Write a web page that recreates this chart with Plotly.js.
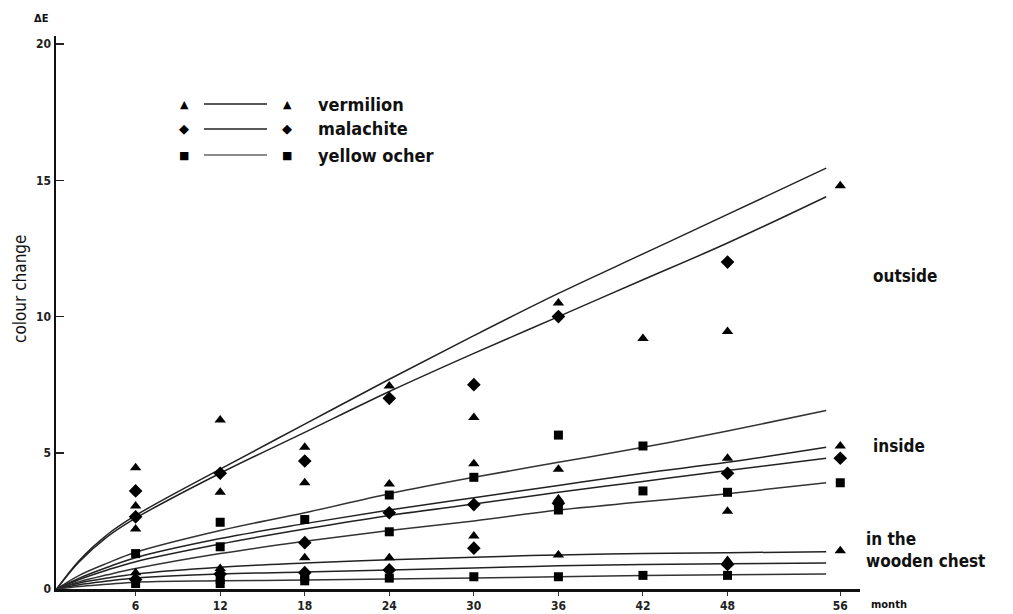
<!DOCTYPE html>
<html>
<head>
<meta charset="utf-8">
<script src="https://cdn.plot.ly/plotly-3.0.1.min.js"></script>
<style>html,body{margin:0;padding:0;background:#fff;}#chart{width:1013px;height:614px;}</style>
</head>
<body>
<div id="chart"></div>
<script>
// ---- data ----
// the curves start at the axis corner (about month 0.4 on this scale)
const curveMonths = [0.4, 2, 4, 6, 12, 18, 24, 30, 36, 42, 48, 55];
// outside
const vermilionOutside = [0, 1.05, 2.0, 2.7, 4.4, 6.05, 7.7, 9.3, 10.85, 12.3, 13.75, 15.45];
const malachiteOutside = [0, 1.0, 1.92, 2.6, 4.25, 5.75, 7.25, 8.65, 10.0, 11.35, 12.7, 14.4];
const yellowOcherOutside = [0, 0.5, 0.95, 1.35, 2.15, 2.8, 3.5, 4.1, 4.65, 5.2, 5.8, 6.55];
// inside
const vermilionInside = [0, 0.4, 0.8, 1.15, 1.85, 2.4, 2.9, 3.35, 3.8, 4.25, 4.65, 5.2];
const malachiteInside = [0, 0.35, 0.7, 1.0, 1.65, 2.2, 2.7, 3.12, 3.55, 3.95, 4.35, 4.8];
const yellowOcherInside = [0, 0.27, 0.52, 0.75, 1.3, 1.75, 2.15, 2.5, 2.9, 3.2, 3.5, 3.9];
// in the wooden chest
const vermilionChest = [0, 0.22, 0.4, 0.55, 0.8, 0.95, 1.07, 1.17, 1.25, 1.3, 1.33, 1.37];
const malachiteChest = [0, 0.16, 0.29, 0.4, 0.55, 0.62, 0.7, 0.77, 0.85, 0.9, 0.93, 0.95];
const yellowOcherChest = [0, 0.09, 0.17, 0.25, 0.3, 0.33, 0.37, 0.4, 0.45, 0.5, 0.52, 0.55];

// measured points
const triMonths = [6,6,6,6, 12,12,12, 18,18,18, 24,24,24, 30,30,30, 36,36,36,36, 42, 48,48,48,48, 56,56,56];
const triValues = [4.45,3.05,2.2,0.6, 6.2,3.55,0.75, 5.2,3.9,1.15, 7.45,3.85,1.15, 6.3,4.6,1.95, 10.5,4.4,3.3,1.25, 9.2, 9.45,4.8,2.85,1.05, 14.8,5.25,1.4];
const diaMonths = [6,6,6, 12,12, 18,18,18, 24,24,24, 30,30,30, 36,36, 48,48,48, 56];
const diaValues = [3.6,2.65,0.35, 4.25,0.55, 4.7,1.7,0.6, 7.0,2.8,0.7, 7.5,3.1,1.5, 10.0,3.15, 12.0,4.25,0.9, 4.8];
const sqMonths = [6,6, 12,12,12,12, 18,18,18, 24,24,24, 30,30, 36,36,36, 42,42,42, 48,48, 56];
const sqValues = [1.3,0.2, 2.45,1.55,0.35,0.2, 2.55,0.45,0.3, 3.45,2.1,0.4, 4.1,0.45, 5.65,2.9,0.45, 5.25,3.6,0.5, 3.55,0.5, 3.9];

const tickVals = [6, 12, 18, 24, 30, 36, 42, 48, 56];
const tickText = ['6', '12', '18', '24', '30', '36', '42', '48', '56'];
const legendNames = ['vermilion', 'malachite', 'yellow ocher'];
const groupLabels = ['outside', 'inside', 'in the<br>wooden chest'];
const groupLabelY = [11.5, 5.25, 1.45];

const FONT = 'DejaVu Sans Condensed, Liberation Sans Narrow, Liberation Sans, sans-serif';
const INK = '#111';

const curves = [
  [vermilionOutside, '#222'], [malachiteOutside, '#222'], [yellowOcherOutside, '#333'],
  [vermilionInside, '#222'], [malachiteInside, '#222'], [yellowOcherInside, '#333'],
  [vermilionChest, '#222'], [malachiteChest, '#222'], [yellowOcherChest, '#333']
];
const traces = curves.map(([v, c]) => ({
  x: curveMonths, y: v, type: 'scatter', mode: 'lines',
  line: {color: c, width: 1.5, shape: 'spline', smoothing: 1},
  hoverinfo: 'skip', showlegend: false
}));
const mk = (xs, ys, sym, size) => ({
  x: xs, y: ys, type: 'scatter', mode: 'markers', cliponaxis: false,
  marker: {symbol: sym, size: size, color: '#000', line: {width: 0}},
  showlegend: false
});
traces.push(mk(triMonths, triValues, 'triangle-up', 10));
traces.push(mk(diaMonths, diaValues, 'diamond', 10.5));
traces.push(mk(sqMonths, sqValues, 'square', 9));

// legend drawn in paper coordinates
const annotations = [];
const shapes = [];
const plotL = 56, plotW = 804, plotT = 36, plotH = 553;
const px = p => (p - plotL) / plotW;
const py = p => 1 - (p - plotT) / plotH;
const legRows = [104, 129, 155];
const legGlyphs = ['▲', '◆', '■'];
const legGlyphSize = [11, 13, 11];
legRows.forEach((ry, i) => {
  [184, 287].forEach(gx => annotations.push({
    xref: 'paper', yref: 'paper', x: px(gx), y: py(ry), text: legGlyphs[i],
    showarrow: false, xanchor: 'center', yanchor: 'middle',
    font: {family: 'DejaVu Sans', size: legGlyphSize[i], color: '#000'}
  }));
  shapes.push({type: 'line', xref: 'paper', yref: 'paper', x0: px(204), x1: px(267), y0: py(ry), y1: py(ry),
    line: {color: i === 2 ? '#666' : '#222', width: 1.6}});
  annotations.push({
    xref: 'paper', yref: 'paper', x: px(316), y: py(ry), text: legendNames[i],
    showarrow: false, xanchor: 'left', yanchor: 'middle',
    font: {family: FONT, size: 18, color: INK, weight: 'bold'}
  });
});
groupLabels.forEach((t, i) => annotations.push({
  xref: 'paper', yref: 'y', x: px(i === 2 ? 864 : 871), y: groupLabelY[i], text: t,
  showarrow: false, xanchor: 'left', yanchor: 'middle', align: 'left',
  font: {family: FONT, size: 17, color: INK, weight: 'bold'}
}));
annotations.push({xref: 'paper', yref: 'paper', x: px(869), y: py(604), text: 'month',
  showarrow: false, xanchor: 'left', yanchor: 'middle',
  font: {family: FONT, size: 11, color: INK, weight: 'bold'}});
annotations.push({xref: 'paper', yref: 'paper', x: px(41), y: py(19), text: 'ΔE',
  showarrow: false, xanchor: 'center', yanchor: 'middle',
  font: {family: FONT, size: 11, color: INK, weight: 'bold'}});
// y-axis title
annotations.push({xref: 'paper', yref: 'paper', x: px(20), y: py(289), text: 'colour change',
  showarrow: false, textangle: -90, xanchor: 'center', yanchor: 'middle',
  font: {family: FONT, size: 17, color: INK}});

const layout = {
  width: 1013, height: 614,
  margin: {l: plotL, r: 1013 - plotL - plotW, t: plotT, b: 614 - plotT - plotH, pad: 0},
  paper_bgcolor: '#fff', plot_bgcolor: '#fff',
  showlegend: false,
  xaxis: {
    range: [0.35, 57.4], tickvals: tickVals, ticktext: tickText,
    showgrid: false, zeroline: false, showline: true, linecolor: '#111', linewidth: 2.5,
    ticks: 'outside', ticklen: 4, tickwidth: 1, tickcolor: '#333',
    tickfont: {family: FONT, size: 12, color: '#222', weight: 'bold'}, fixedrange: true
  },
  yaxis: {
    range: [0, 20.3], tickvals: [0, 5, 10, 15, 20],
    showgrid: false, zeroline: false, showline: true, linecolor: '#111', linewidth: 2.5,
    ticks: 'inside', ticklen: 8, tickwidth: 1.5, tickcolor: '#222',
    tickfont: {family: FONT, size: 12, color: '#222', weight: 'bold'},
    fixedrange: true
  },
  annotations: annotations, shapes: shapes
};
Plotly.newPlot('chart', traces, layout, {displayModeBar: false, staticPlot: true});
</script>
</body>
</html>
